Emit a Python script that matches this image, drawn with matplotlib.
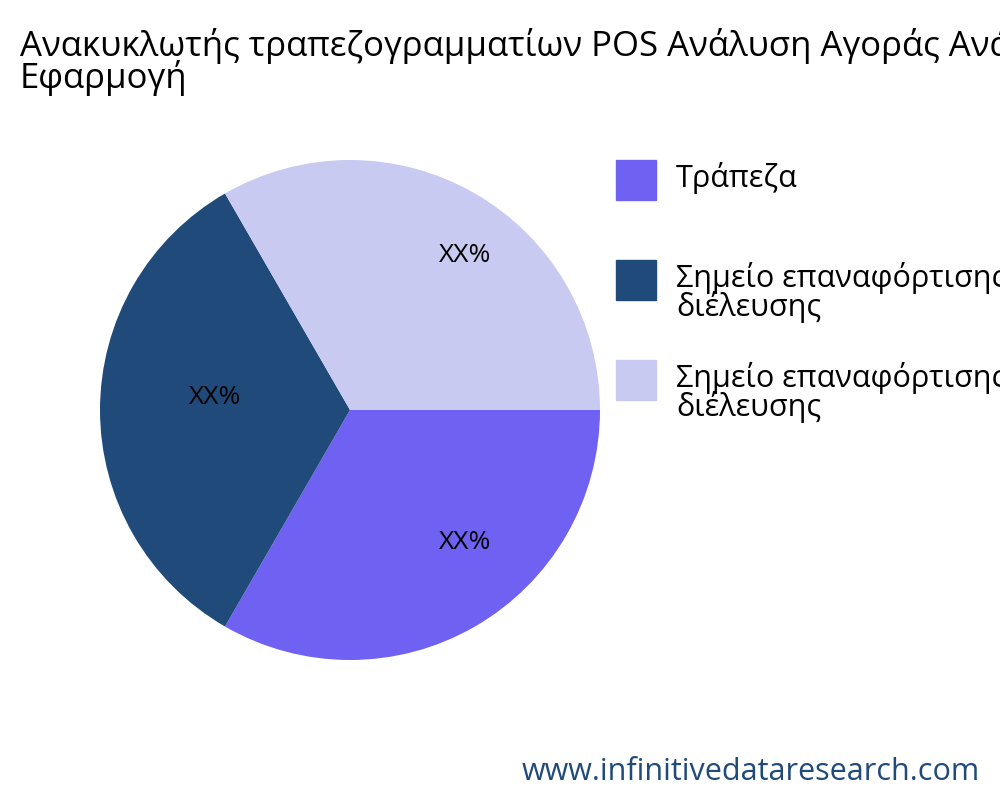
import matplotlib
matplotlib.use("Agg")
import matplotlib.pyplot as plt
import numpy as np
from matplotlib.patches import Rectangle

plt.rcParams['font.family'] = ['Open Sans', 'Noto Sans', 'DejaVu Sans']

labels = ["Τράπεζα", "Σημείο επαναφόρτισης\nδιέλευσης", "Σημείο επαναφόρτισης\nδιέλευσης"]
values = [1, 1, 1]
pct_labels = ["XX%", "XX%", "XX%"]
colors = ["#6f61f2", "#1f4a7a", "#c8caf2"]
title = "Ανακυκλωτής τραπεζογραμματίων POS Ανάλυση Αγοράς Ανά\nΕφαρμογή"

fig = plt.figure(figsize=(10, 8), dpi=100)
ax = fig.add_axes([0.1, 0.175, 0.5, 0.625])
wedges, _ = ax.pie(values, colors=colors, startangle=0, counterclock=False, radius=1)
ax.set_xlim(-1, 1); ax.set_ylim(-1, 1); ax.set_aspect('equal')
label_pos = [(0.46, -0.53), (-0.54, 0.05), (0.46, 0.62)]
for (x, y), t in zip(label_pos, pct_labels):
    ax.text(x, y, t, ha='center', va='center', fontsize=19, color='black')

fig.text(0.02, 0.965, title, fontsize=25, va='top', ha='left', linespacing=0.85)

ys = [0.75, 0.625, 0.5]
for y, c, l in zip(ys, colors, labels):
    fig.patches.append(Rectangle((0.616, y), 0.04, 0.05, color=c, transform=fig.transFigure))
    fig.text(0.676, y + 0.025 + 0.003, l.split("\n")[0], fontsize=22, va='center', ha='left')
    if "\n" in l:
        fig.text(0.676, y + 0.025 - 0.034, l.split("\n")[1], fontsize=22, va='center', ha='left')

fig.text(0.98, 0.035, "www.infinitivedataresearch.com", fontsize=22, color="#1f4a7a", ha='right', va='center')
fig.savefig("out.png", dpi=100)
